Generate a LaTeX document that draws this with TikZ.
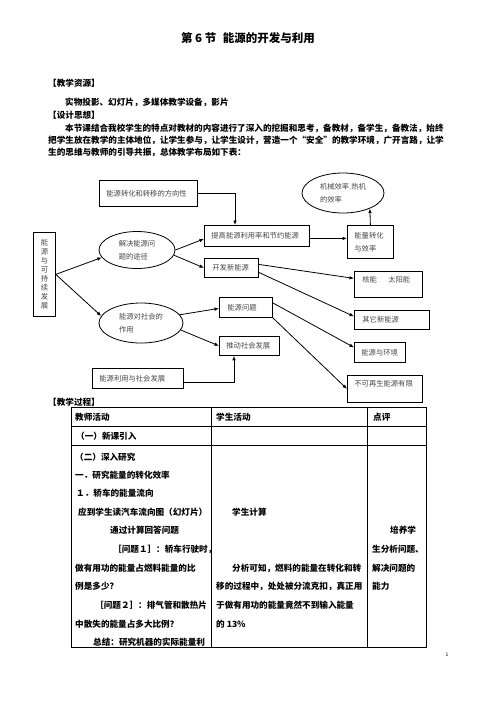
\documentclass[tikz,border=0pt]{standalone}
\usepackage{fontspec}
\setmainfont{Noto Sans CJK SC}
\usetikzlibrary{shapes.geometric,arrows.meta}
\begin{document}
\begin{tikzpicture}[x=1pt,y=-1pt,
  body/.style={anchor=west,inner sep=0pt,font=\fontsize{8.6}{10}\selectfont\bfseries},
  dtext/.style={font=\fontsize{7.3}{13}\selectfont,text=black!72},
  box/.style={draw,line width=0.8pt,anchor=north west,inner sep=0pt,align=left,dtext},
  oval/.style={draw,ellipse,line width=0.8pt,inner sep=0pt,align=left,dtext},
  arr/.style={-{Latex[length=4.5pt,width=3.6pt]},line width=0.8pt},
  grid/.style={line width=0.9pt}]
\useasboundingbox[fill=white] (0,0) rectangle (496,702);

% header text
\node[font=\fontsize{11.5}{12}\selectfont\bfseries,inner sep=0pt] (title) at (248,38) {第 6 节\hspace{6.5pt}能源的开发与利用};
\node[body] (h1) at (48,83) {【教学资源】};
\node[body] (p1) at (65,102) {实物投影、幻灯片，多媒体教学设备，影片};
\node[body] (h2) at (48,115) {【设计思想】};
\node[body] (p2) at (65,128) {本节课结合我校学生的特点对教材的内容进行了深入的挖掘和思考，备教材，备学生，备教法，始终};
\node[body] (p3) at (48,140) {把学生放在教学的主体地位，让学生参与，让学生设计，营造一个“安全”的教学环境，广开言路，让学};
\node[body] (p4) at (48,152) {生的思维与教师的引导共振，总体教学布局如下表：};

% diagram
\node[box,minimum width=98pt,minimum height=26pt,text width=84pt] (fx) at (99,180) {能源转化和转移的方向性};
\node[box,minimum width=22pt,minimum height=84pt,text width=8pt,align=center,font=\fontsize{7.3}{9}\selectfont] (ls) at (33,232) {能\\源\\与\\可\\持\\续\\发\\展};
\node[oval,minimum width=76pt,minimum height=37pt] (e1) at (137,250) {解决能源问\\题的途径};
\node[oval,minimum width=84pt,minimum height=40pt] (e2) at (141,323) {能源对社会的\\作用};
\node[oval,minimum width=82pt,minimum height=40pt] (me) at (343,193) {机械效率.热机\\的效率};
\node[box,minimum width=105pt,minimum height=21pt,text width=91pt] (tg) at (204,225) {提高能源利用率和节约能源};
\node[box,minimum width=54pt,minimum height=19pt,text width=38pt] (kf) at (204,258) {开发新能源};
\node[box,minimum width=46pt,minimum height=33pt,text width=32pt] (nl) at (347,225) {能量转化\\与效率};
\node[box,minimum width=68pt,minimum height=26pt,text width=52pt,text depth=9pt] (hn) at (354,271) {核能\hspace{11.4pt}太阳能};
\node[box,minimum width=75pt,minimum height=19pt,text width=59pt] (qt) at (354,310) {其它新能源};
\node[box,minimum width=53pt,minimum height=20pt,text width=37pt] (nw) at (219,297) {能源问题};
\node[box,minimum width=60pt,minimum height=19pt,text width=46pt] (td) at (219,336) {推动社会发展};
\node[box,minimum width=51pt,minimum height=20pt,text width=37pt] (hj) at (354,342) {能源与环境};
\node[box,minimum width=75pt,minimum height=27pt,text width=61pt,text depth=10pt] (bk) at (347,375) {不可再生能源有限};
\node[box,minimum width=91pt,minimum height=20pt,text width=77pt] (ly) at (92,368) {能源利用与社会发展};

\draw[arr] (fx.east) -| ([xshift=31pt]tg.north west);
\draw[arr] (ls.east) -- (e1.192);
\draw[arr] (ls.east) -- (e2.170);
\draw[arr] (e1.0) -- ([yshift=-3pt]tg.west);
\draw[arr] (e1.352) -- (kf.west);
\draw[arr] (e2.12) -- ([yshift=-1pt]nw.west);
\draw[arr] (e2.350) -- (td.west);
\draw[arr] ([yshift=-2.5pt]tg.east) -- ([yshift=-2.5pt]nl.west |- tg.east);
\draw[arr] (nl.north) -- (me.-30);
\draw[arr] ([yshift=3.5pt]kf.east) -- ([yshift=6pt]hn.west);
\draw[arr] ([yshift=-4.5pt]kf.east) -- ([yshift=3.5pt]qt.west);
\draw[arr] ([yshift=4.5pt]nw.east) -- ([yshift=5pt]hj.west);
\draw[arr] (nw.south east) -- (bk.west);
\draw[arr] ([yshift=-4pt]ly.east) -| ([xshift=15pt]td.south west);

% teaching process
\node[body] (h3) at (48,402) {【教学过程】};
\draw[grid] (71,407) rectangle (426,647);
\draw[grid] (71,426) -- (426,426);
\draw[grid] (71,445) -- (426,445);
\draw[grid] (211,407) -- (211,647);
\draw[grid] (367,407) -- (367,647);

\node[body] (c1) at (75,417) {教师活动};
\node[body] (c2) at (216,417) {学生活动};
\node[body] (c3) at (373,417) {点评};
\node[body] (r1) at (76,436) {（一）新课引入};

\node[body] (t1) at (75,457) {（二）深入研究};
\node[body] (t2) at (75,475) {一．研究能量的转化效率};
\node[body] (t3) at (76,493) {１．轿车的能量流向};
\node[body] (t4) at (78,512) {应到学生读汽车流向图（幻灯片）};
\node[body] (t5) at (110,530) {通过计算回答问题};
\node[body] (t6) at (113,549) {［问题１］：轿车行驶时，};
\node[body] (t7) at (75,568) {做有用功的能量占燃料能量的比};
\node[body] (t8) at (75,586) {例是多少？};
\node[body] (t9) at (95,605) {［问题２］：排气管和散热片};
\node[body] (t10) at (75,624) {中散失的能量占多大比例？};
\node[body] (t11) at (93,642) {总结：研究机器的实际能量利};

\node[body] (s1) at (232,512) {学生计算};
\node[body] (s2) at (232,568) {分析可知，燃料的能量在转化和转};
\node[body] (s3) at (216,586) {移的过程中，处处被分流克扣，真正用};
\node[body] (s4) at (216,605) {于做有用功的能量竟然不到输入能量};
\node[body] (s5) at (216,624) {的 13\%};

\node[body] (d1) at (390,530) {培养学};
\node[body] (d2) at (372,549) {生分析问题、};
\node[body] (d3) at (372,568) {解决问题的};
\node[body] (d4) at (372,586) {能力};

\node[anchor=center,inner sep=0pt,font=\fontsize{5}{6}\selectfont] (pg) at (447,655) {1};
\end{tikzpicture}
\end{document}
